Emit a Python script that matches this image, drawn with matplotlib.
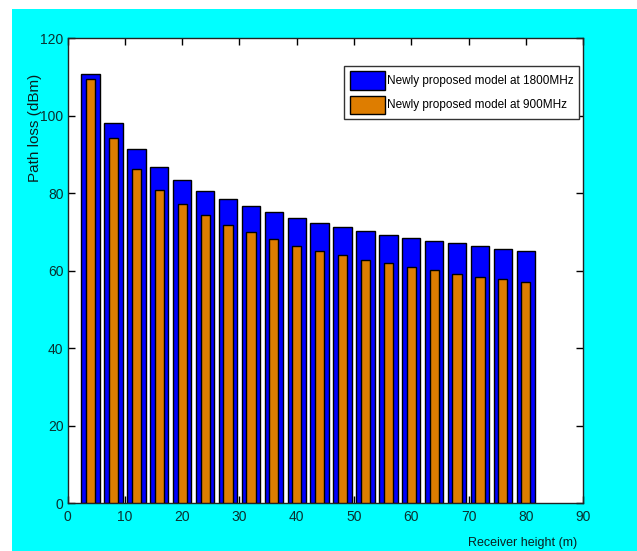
import matplotlib.pyplot as plt
from matplotlib.patches import Rectangle

# alturas do receptor (m)
heights = [4, 8, 12, 16, 20, 24, 28, 32, 36, 40, 44, 48, 52, 56, 60, 64, 68, 72, 76, 80]

# perda de percurso (dBm) para cada frequencia
loss_1800 = [110.9, 98.0, 91.5, 86.7, 83.4, 80.7, 78.6, 76.6, 75.2, 73.7,
             72.4, 71.4, 70.2, 69.3, 68.5, 67.8, 67.1, 66.4, 65.7, 65.1]
loss_900 = [109.4, 94.2, 86.2, 80.9, 77.2, 74.4, 71.9, 69.9, 68.2, 66.4,
            65.0, 64.0, 62.9, 61.9, 60.9, 60.2, 59.1, 58.5, 57.8, 57.1]

labels = ["Newly proposed model at 1800MHz", "Newly proposed model at 900MHz"]

fonte = ["Liberation Sans", "DejaVu Sans"]

fig = plt.figure(figsize=(6.37, 5.51), dpi=100, facecolor="white")
# fundo ciano da figura
fig.patches.append(Rectangle((12 / 637, 0), 1, (551 - 9) / 551,
                             transform=fig.transFigure, facecolor="#00ffff",
                             edgecolor="none", zorder=-5))

ax = fig.add_axes([0.1063, 0.0866, 0.809, 0.844])
ax.set_facecolor("white")

ax.bar(heights, loss_1800, width=3.2, color="#0000ff", edgecolor="black",
       linewidth=1, label=labels[0], zorder=2)
ax.bar(heights, loss_900, width=1.6, color="#de7d00", edgecolor="black",
       linewidth=1, label=labels[1], zorder=3)

ax.set_xlim(0, 90)
ax.set_ylim(0, 120)
ax.set_xticks(range(0, 91, 10))
ax.set_yticks(range(0, 121, 20))

ax.tick_params(direction="in", top=True, right=True, length=5, width=1,
               labelsize=10, colors="black")
ax.tick_params(axis="x", pad=5)
ax.tick_params(axis="y", pad=3)
for lbl in ax.get_xticklabels() + ax.get_yticklabels():
    lbl.set_family(fonte)
    lbl.set_color("#0a3030")

for s in ax.spines.values():
    s.set_linewidth(1)
    s.set_color("#222222")

# rotulos dos eixos
ax.text(-0.063, 0.807, "Path loss (dBm)", transform=ax.transAxes,
        rotation=90, ha="center", va="center", fontsize=11,
        family=fonte, color="#0a2020")
ax.text(0.882, -0.085, "Receiver height (m)", transform=ax.transAxes,
        ha="center", va="center", fontsize=9, family=fonte,
        color="#0a2020")

leg = ax.legend(loc="upper right", bbox_to_anchor=(0.992, 0.940),
                borderaxespad=0, fancybox=False, framealpha=1,
                edgecolor="#333333", handlelength=2.95, handleheight=2.0,
                handletextpad=0.2, labelspacing=0.5, borderpad=0.45,
                prop={"family": fonte, "size": 8.5})
leg.get_frame().set_linewidth(1)

plt.savefig("out.png", dpi=100, facecolor=fig.get_facecolor())
